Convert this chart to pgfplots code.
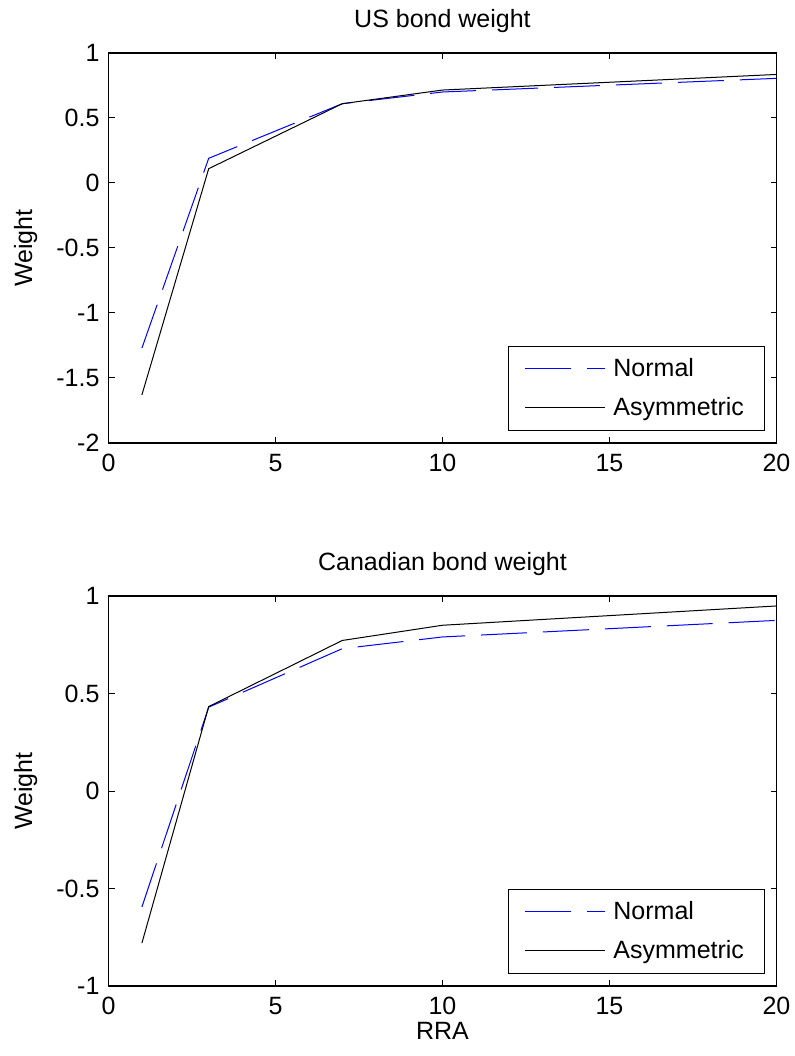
\documentclass[border=0pt]{standalone}
\usepackage{fontspec}
\setmainfont{Liberation Sans}
\usepackage{pgfplots}
\pgfplotsset{compat=1.18}

% MATLAB-like subplot style
\pgfplotsset{matlab/.style={
  scale only axis, width=334pt, height=195pt,
  xmin=0, xmax=20,
  xtick={0,5,10,15,20}, xticklabels={0,5,10,15,20},
  tick align=inside, major tick length=3pt,
  tick style={black, line width=0.5pt},
  axis line style={line width=0.6pt},
  font=\fontsize{12.5}{14}\selectfont,
  xticklabel style={yshift=-2pt},
  yticklabel style={xshift=-1pt},
  ylabel=Weight,
  ylabel style={at={(axis description cs:-0.124,0.5)}, anchor=center},
  title style={at={(axis description cs:0.5,1.05)}, anchor=center},
  legend image code/.code={\draw[#1] (0pt,0pt) -- (40pt,0pt);},
  legend cell align=left,
  legend style={at={(axis description cs:1,0)}, anchor=south east,
    xshift=-6pt, yshift=6pt, draw=black, line width=0.5pt,
    inner xsep=8pt, inner ysep=4pt, row sep=5pt, column sep=2pt,
    font=\fontsize{12.5}{14}\selectfont},
}}

\begin{document}
\begin{tikzpicture}
\useasboundingbox (-54.25pt,-35pt) rectangle (343.25pt,493pt);

\begin{axis}[matlab, at={(0pt,271.5pt)}, anchor=south west,
  title={US bond weight},
  ymin=-2, ymax=1,
  ytick={-2,-1.5,-1,-0.5,0,0.5,1},
  yticklabels={-2,-1.5,-1,-0.5,0,0.5,1}]
\addplot[blue, line width=0.5pt, dash pattern=on 23pt off 8pt] coordinates {
(1,-1.27) (3,0.19) (7,0.61) (10,0.70) (20,0.805)};
\addlegendentry{Normal}
\addplot[black, line width=0.5pt] coordinates {
(1,-1.63) (3,0.11) (7,0.61) (10,0.715) (20,0.835)};
\addlegendentry{Asymmetric}
\end{axis}

\begin{axis}[matlab, at={(0pt,0pt)}, anchor=south west,
  title={Canadian bond weight},
  xlabel=RRA,
  xlabel style={at={(axis description cs:0.5,-0.115)}, anchor=center},
  ymin=-1, ymax=1,
  ytick={-1,-0.5,0,0.5,1},
  yticklabels={-1,-0.5,0,0.5,1}]
\addplot[blue, line width=0.5pt, dash pattern=on 23pt off 8pt] coordinates {
(1,-0.595) (3,0.43) (7,0.73) (10,0.79) (20,0.875)};
\addlegendentry{Normal}
\addplot[black, line width=0.5pt] coordinates {
(1,-0.78) (3,0.433) (7,0.772) (10,0.85) (20,0.949)};
\addlegendentry{Asymmetric}
\end{axis}
\end{tikzpicture}
\end{document}
